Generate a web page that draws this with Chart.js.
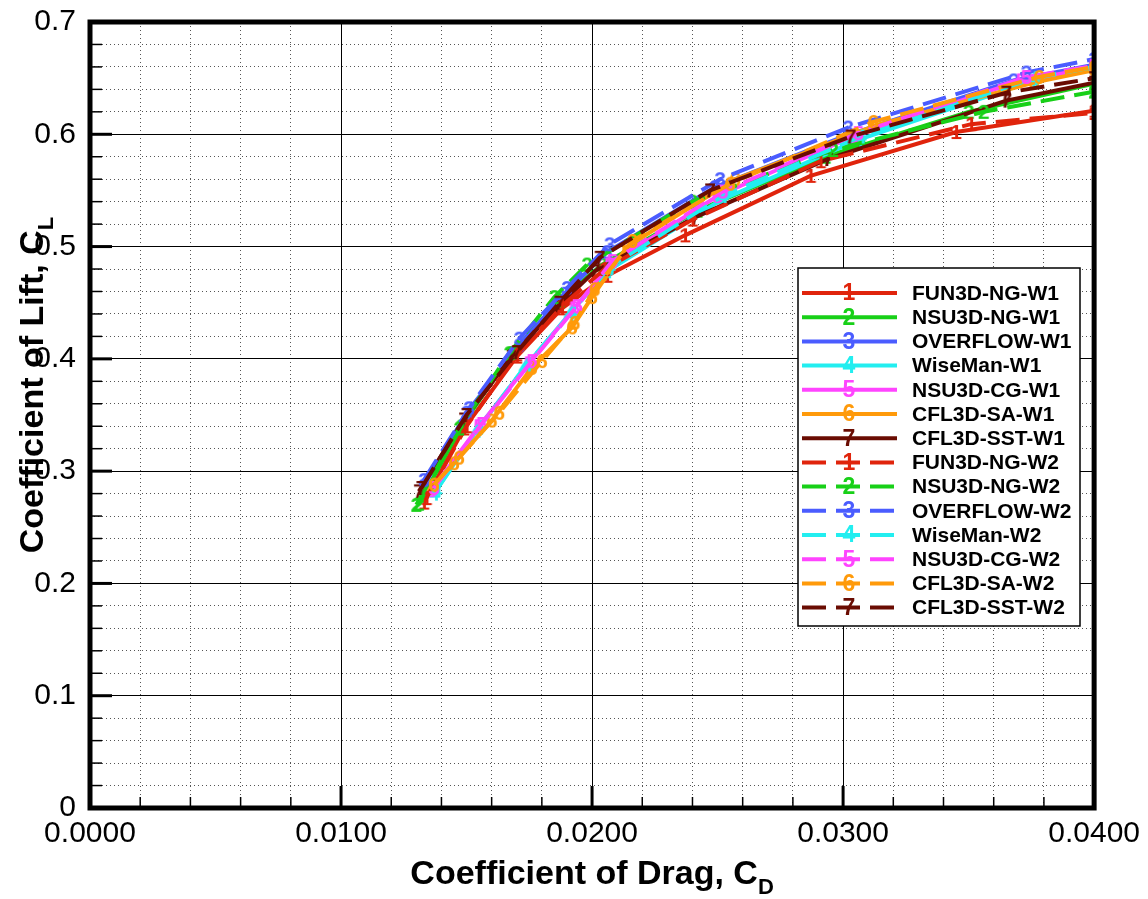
<!DOCTYPE html>
<html lang="en">
<head>
  <meta charset="UTF-8">
  <title>Drag polar, W1 / W2 grids</title>
  <script src="https://cdn.jsdelivr.net/npm/chart.js"></script>
  <style>
    html, body { margin: 0; padding: 0; background: #fff; }
    #wrap { width: 1148px; height: 899px; }
  </style>
</head>
<body>
  <div id="wrap"><canvas id="polar" width="1148" height="899"></canvas></div>

  <script>
    const FONT = '"Liberation Sans", Arial, Helvetica, sans-serif';

    // x / y tick labels
    const cdTicks = ['0.0000', '0.0100', '0.0200', '0.0300', '0.0400'];
    const clTicks = ['0', '0.1', '0.2', '0.3', '0.4', '0.5', '0.6', '0.7'];

    const seriesNames = [
      'FUN3D-NG-W1', 'NSU3D-NG-W1', 'OVERFLOW-W1', 'WiseMan-W1', 'NSU3D-CG-W1', 'CFL3D-SA-W1', 'CFL3D-SST-W1',
      'FUN3D-NG-W2', 'NSU3D-NG-W2', 'OVERFLOW-W2', 'WiseMan-W2', 'NSU3D-CG-W2', 'CFL3D-SA-W2', 'CFL3D-SST-W2'
    ];
    const seriesSymbols = ['1', '2', '3', '4', '5', '6', '7', '1', '2', '3', '4', '5', '6', '7'];
    const solverColors = ['#e0240c', '#18d018', '#4a5cff', '#22eef0', '#ff44ff', '#ff9a0a', '#6a0c02'];

    // W1 grid, solid lines
    const fun3dNgW1CD = [0.0133, 0.0149, 0.0170, 0.0188, 0.0206, 0.0237, 0.0287, 0.0345, 0.0400];
    const fun3dNgW1CL = [0.272, 0.338, 0.402, 0.445, 0.474, 0.510, 0.563, 0.602, 0.621];
    const nsu3dNgW1CD = [0.0131, 0.0148, 0.0168, 0.0187, 0.0204, 0.0242, 0.0293, 0.0350, 0.0400];
    const nsu3dNgW1CL = [0.271, 0.340, 0.405, 0.452, 0.484, 0.532, 0.580, 0.620, 0.645];
    const overflowW1CD = [0.0133, 0.0150, 0.0171, 0.0189, 0.0206, 0.0249, 0.0300, 0.0368, 0.0400];
    const overflowW1CL = [0.287, 0.352, 0.412, 0.458, 0.495, 0.553, 0.598, 0.648, 0.662];
    const wisemanW1CD = [0.0137, 0.0154, 0.0173, 0.0191, 0.0206, 0.0251, 0.0306, 0.0375, 0.0400];
    const wisemanW1CL = [0.280, 0.336, 0.392, 0.440, 0.478, 0.541, 0.595, 0.647, 0.658];
    const nsu3dCgW1CD = [0.0136, 0.0155, 0.0175, 0.0193, 0.0207, 0.0250, 0.0304, 0.0371, 0.0400];
    const nsu3dCgW1CL = [0.283, 0.340, 0.396, 0.445, 0.484, 0.545, 0.598, 0.648, 0.659];
    const cfl3dSaW1CD = [0.0136, 0.0145, 0.0160, 0.0176, 0.0192, 0.0200, 0.0214, 0.0257, 0.0313, 0.0376, 0.0400];
    const cfl3dSaW1CL = [0.285, 0.307, 0.345, 0.392, 0.428, 0.455, 0.500, 0.560, 0.608, 0.646, 0.657];
    const cfl3dSstW1CD = [0.0131, 0.0149, 0.0168, 0.0186, 0.0201, 0.0241, 0.0294, 0.0365, 0.0400];
    const cfl3dSstW1CL = [0.282, 0.346, 0.402, 0.446, 0.478, 0.526, 0.578, 0.630, 0.646];

    // W2 grid, dashed lines
    const fun3dNgW2CD = [0.0134, 0.0150, 0.0170, 0.0188, 0.0205, 0.0240, 0.0291, 0.0351, 0.0400];
    const fun3dNgW2CL = [0.276, 0.340, 0.404, 0.447, 0.480, 0.524, 0.576, 0.609, 0.619];
    const nsu3dNgW2CD = [0.0130, 0.0147, 0.0167, 0.0185, 0.0198, 0.0240, 0.0296, 0.0356, 0.0400];
    const nsu3dNgW2CL = [0.270, 0.338, 0.405, 0.455, 0.484, 0.540, 0.586, 0.620, 0.638];
    const overflowW2CD = [0.0133, 0.0151, 0.0171, 0.0190, 0.0207, 0.0251, 0.0302, 0.0373, 0.0400];
    const overflowW2CL = [0.292, 0.356, 0.418, 0.463, 0.502, 0.560, 0.606, 0.655, 0.667];
    const wisemanW2CD = [0.0138, 0.0155, 0.0174, 0.0192, 0.0207, 0.0252, 0.0307, 0.0376, 0.0400];
    const wisemanW2CL = [0.283, 0.339, 0.395, 0.442, 0.482, 0.545, 0.598, 0.650, 0.660];
    const nsu3dCgW2CD = [0.0137, 0.0156, 0.0176, 0.0194, 0.0208, 0.0252, 0.0306, 0.0373, 0.0400];
    const nsu3dCgW2CL = [0.285, 0.342, 0.398, 0.447, 0.487, 0.549, 0.601, 0.651, 0.661];
    const cfl3dSaW2CD = [0.0137, 0.0147, 0.0163, 0.0180, 0.0193, 0.0201, 0.0216, 0.0255, 0.0312, 0.0378, 0.0400];
    const cfl3dSaW2CL = [0.288, 0.312, 0.352, 0.398, 0.432, 0.462, 0.505, 0.556, 0.611, 0.651, 0.660];
    const cfl3dSstW2CD = [0.0132, 0.0150, 0.0170, 0.0187, 0.0203, 0.0247, 0.0303, 0.0365, 0.0400];
    const cfl3dSstW2CL = [0.285, 0.350, 0.406, 0.450, 0.490, 0.550, 0.598, 0.637, 0.650];

    const seriesCD = [fun3dNgW1CD, nsu3dNgW1CD, overflowW1CD, wisemanW1CD, nsu3dCgW1CD, cfl3dSaW1CD, cfl3dSstW1CD,
                      fun3dNgW2CD, nsu3dNgW2CD, overflowW2CD, wisemanW2CD, nsu3dCgW2CD, cfl3dSaW2CD, cfl3dSstW2CD];
    const seriesCL = [fun3dNgW1CL, nsu3dNgW1CL, overflowW1CL, wisemanW1CL, nsu3dCgW1CL, cfl3dSaW1CL, cfl3dSstW1CL,
                      fun3dNgW2CL, nsu3dNgW2CL, overflowW2CL, wisemanW2CL, nsu3dCgW2CL, cfl3dSaW2CL, cfl3dSstW2CL];

    const W2_DASH = [24, 10];

    // digit used as the point symbol
    function makeSymbol(ch, color) {
      const c = document.createElement('canvas');
      c.width = 18; c.height = 22;
      const g = c.getContext('2d');
      g.fillStyle = color;
      g.font = 'bold 21px ' + FONT;
      g.textAlign = 'center';
      g.textBaseline = 'middle';
      g.fillText(ch, 9, 12);
      return c;
    }

    const datasets = seriesNames.map((name, i) => {
      const color = solverColors[i % 7];
      return {
        label: name,
        data: seriesCD[i].map((cd, k) => ({ x: cd, y: seriesCL[i][k] })),
        showLine: true,
        borderColor: color,
        backgroundColor: color,
        borderWidth: 4,
        borderDash: i >= 7 ? W2_DASH : [],
        pointStyle: makeSymbol(seriesSymbols[i], color),
        pointRadius: 9,
        pointHoverRadius: 9,
        tension: 0,
        order: seriesNames.length - 1 - i
      };
    });

    const isMajor = (v, step) => Math.abs(v / step - Math.round(v / step)) < 1e-6;

    const decorations = {
      id: 'decorations',
      afterDraw(chart) {
        const { ctx, chartArea: a, scales } = chart;
        ctx.save();

        // inward tick marks, left and bottom edges
        ctx.strokeStyle = '#000';
        scales.xMinor.ticks.forEach(t => {
          const px = scales.x.getPixelForValue(t.value);
          const major = isMajor(t.value, 0.01);
          ctx.lineWidth = major ? 3 : 1.5;
          ctx.beginPath();
          ctx.moveTo(px, a.bottom);
          ctx.lineTo(px, a.bottom - (major ? 22 : 11));
          ctx.stroke();
        });
        scales.yMinor.ticks.forEach(t => {
          const py = scales.y.getPixelForValue(t.value);
          const major = isMajor(t.value, 0.1);
          ctx.lineWidth = major ? 3 : 1.5;
          ctx.beginPath();
          ctx.moveTo(a.left, py);
          ctx.lineTo(a.left + (major ? 22 : 12), py);
          ctx.stroke();
        });

        // heavy frame
        ctx.lineWidth = 5;
        ctx.strokeRect(a.left, a.top, a.right - a.left, a.bottom - a.top);

        // legend box
        const lx = 798, ly = 268, lw = 282, lh = 358;
        ctx.fillStyle = '#fff';
        ctx.fillRect(lx, ly, lw, lh);
        ctx.lineWidth = 1.5;
        ctx.strokeStyle = '#000';
        ctx.strokeRect(lx, ly, lw, lh);
        seriesNames.forEach((name, i) => {
          const y = 293 + i * 24.2;
          const color = solverColors[i % 7];
          ctx.strokeStyle = color;
          ctx.lineWidth = 4;
          ctx.setLineDash(i >= 7 ? W2_DASH : []);
          ctx.beginPath();
          ctx.moveTo(802, y);
          ctx.lineTo(897, y);
          ctx.stroke();
          ctx.setLineDash([]);
          ctx.fillStyle = color;
          ctx.font = 'bold 23px ' + FONT;
          ctx.textAlign = 'center';
          ctx.textBaseline = 'middle';
          ctx.fillText(seriesSymbols[i], 849, y + 1);
          ctx.fillStyle = '#000';
          ctx.font = 'bold 21px ' + FONT;
          ctx.textAlign = 'left';
          ctx.fillText(name, 912, y + 1);
        });

        // axis titles with subscripts
        ctx.fillStyle = '#000';
        ctx.textAlign = 'left';
        ctx.textBaseline = 'alphabetic';
        ctx.font = 'bold 34px ' + FONT;
        const xMain = 'Coefficient of Drag, C';
        const w1 = ctx.measureText(xMain).width;
        ctx.font = 'bold 22px ' + FONT;
        const w2 = ctx.measureText('D').width;
        const x0 = (a.left + a.right) / 2 - (w1 + w2) / 2;
        ctx.font = 'bold 34px ' + FONT;
        ctx.fillText(xMain, x0, 884);
        ctx.font = 'bold 22px ' + FONT;
        ctx.fillText('D', x0 + w1, 894);

        ctx.translate(43, 385);
        ctx.rotate(-Math.PI / 2);
        ctx.font = 'bold 34px ' + FONT;
        const yMain = 'Coefficient of Lift, C';
        const h1 = ctx.measureText(yMain).width;
        ctx.font = 'bold 22px ' + FONT;
        const h2 = ctx.measureText('L').width;
        const y0 = -(h1 + h2) / 2;
        ctx.font = 'bold 34px ' + FONT;
        ctx.fillText(yMain, y0, 0);
        ctx.font = 'bold 22px ' + FONT;
        ctx.fillText('L', y0 + h1, 10);

        ctx.restore();
      }
    };

    new Chart(document.getElementById('polar'), {
      type: 'scatter',
      data: { datasets },
      options: {
        responsive: false,
        animation: false,
        layout: { padding: { left: 0, top: 22, right: 52, bottom: 0 } },
        plugins: { legend: { display: false }, tooltip: { enabled: false } },
        scales: {
          x: {
            type: 'linear', min: 0, max: 0.04,
            ticks: {
              stepSize: 0.01, color: '#000', padding: 8,
              font: { family: FONT, size: 30 },
              callback: (v) => cdTicks[Math.round(v / 0.01)]
            },
            grid: { color: '#000', lineWidth: 1, drawTicks: false },
            border: { display: false },
            afterFit: (s) => { s.height = 91; }
          },
          xMinor: {
            type: 'linear', position: 'bottom', min: 0, max: 0.04,
            ticks: { display: false, stepSize: 0.002 },
            grid: {
              drawTicks: false, lineWidth: 1,
              color: (c) => isMajor(c.tick.value, 0.01) ? 'rgba(0,0,0,0)' : '#555'
            },
            border: { display: false, dash: [1, 3] },
            afterFit: (s) => { s.height = 0; }
          },
          y: {
            type: 'linear', min: 0, max: 0.7,
            ticks: {
              stepSize: 0.1, color: '#000', padding: 14,
              font: { family: FONT, size: 30 },
              callback: (v) => clTicks[Math.round(v / 0.1)]
            },
            grid: { color: '#000', lineWidth: 1, drawTicks: false },
            border: { display: false },
            afterFit: (s) => { s.width = 90; s.paddingTop = 0; s.paddingBottom = 0; }
          },
          yMinor: {
            type: 'linear', position: 'left', min: 0, max: 0.7,
            ticks: { display: false, stepSize: 0.02 },
            grid: {
              drawTicks: false, lineWidth: 1,
              color: (c) => isMajor(c.tick.value, 0.1) ? 'rgba(0,0,0,0)' : '#555'
            },
            border: { display: false, dash: [1, 3] },
            afterFit: (s) => { s.width = 0; }
          }
        }
      },
      plugins: [decorations]
    });
  </script>
</body>
</html>
